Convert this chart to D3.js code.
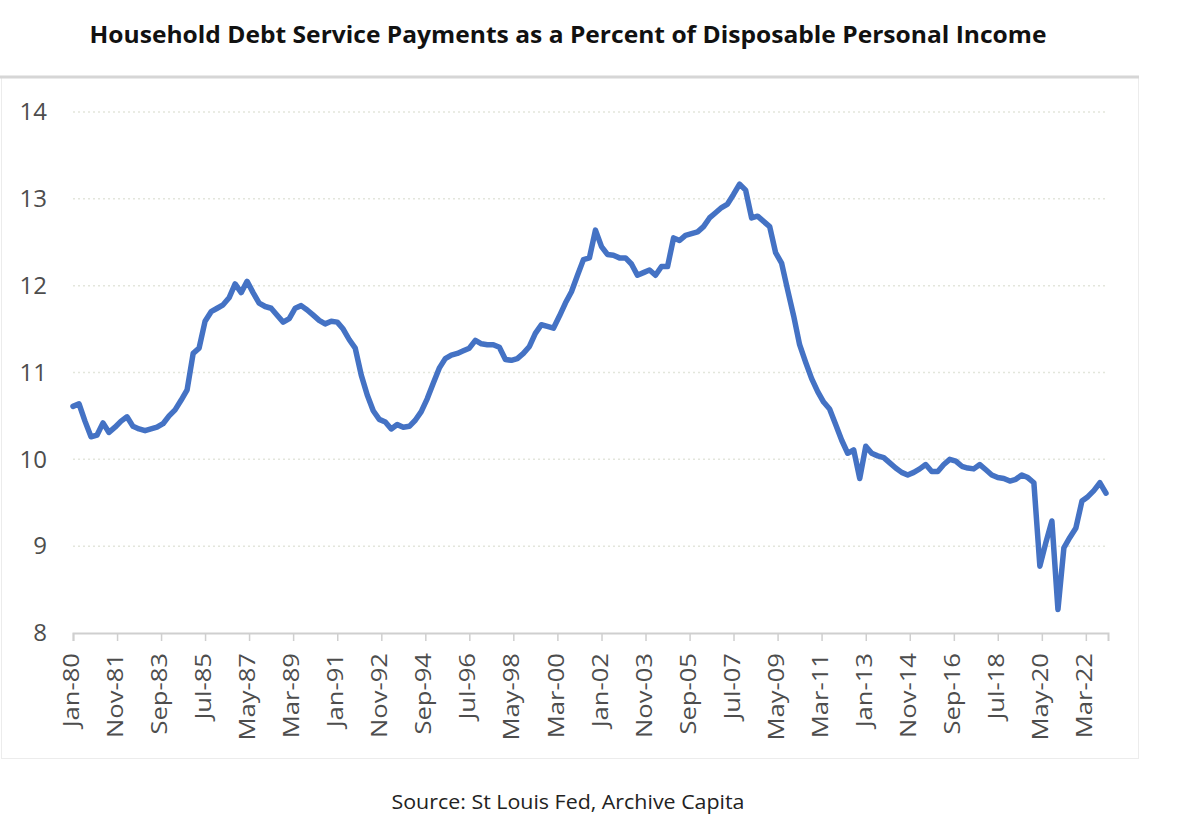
<!DOCTYPE html>
<html>
<head>
<meta charset="utf-8">
<script src="https://cdn.jsdelivr.net/npm/d3@7"></script>
<style>
  html, body { margin: 0; padding: 0; background: #ffffff; }
  svg { display: block; }
</style>
</head>
<body>
<svg id="chart" width="1200" height="828"></svg>
<script>
// ---- Data (quarterly, starting Q1 1980) ----
const title = "Household Debt Service Payments as a Percent of Disposable Personal Income";
const sourceText = "Source: St Louis Fed, Archive Capita";
const startYear = 1980;
const values = [
  10.61, 10.64, 10.44, 10.26, 10.28, 10.42, 10.31, 10.37, 10.44, 10.49,
  10.38, 10.35, 10.33, 10.35, 10.37, 10.41, 10.50, 10.57, 10.68, 10.80,
  11.22, 11.28, 11.59, 11.70, 11.74, 11.78, 11.86, 12.02, 11.92, 12.05,
  11.92, 11.80, 11.76, 11.74, 11.66, 11.58, 11.62, 11.74, 11.77, 11.72,
  11.66, 11.60, 11.56, 11.59, 11.58, 11.50, 11.38, 11.28, 10.97, 10.74,
  10.56, 10.46, 10.43, 10.35, 10.40, 10.37, 10.38, 10.45, 10.55, 10.70,
  10.88, 11.05, 11.16, 11.20, 11.22, 11.25, 11.28, 11.37, 11.33, 11.32,
  11.32, 11.29, 11.15, 11.14, 11.16, 11.22, 11.30, 11.45, 11.55, 11.53,
  11.51, 11.65, 11.80, 11.93, 12.12, 12.30, 12.32, 12.64, 12.45, 12.36,
  12.35, 12.32, 12.32, 12.25, 12.12, 12.15, 12.18, 12.12, 12.22, 12.22,
  12.55, 12.52, 12.58, 12.60, 12.62, 12.68, 12.78, 12.84, 12.90, 12.94,
  13.05, 13.17, 13.10, 12.78, 12.80, 12.74, 12.68, 12.38, 12.26, 11.95,
  11.65, 11.32, 11.12, 10.93, 10.78, 10.66, 10.58, 10.40, 10.22, 10.07,
  10.11, 9.78, 10.15, 10.07, 10.04, 10.02, 9.96, 9.90, 9.85, 9.82,
  9.85, 9.89, 9.94, 9.86, 9.86, 9.94, 10.00, 9.98, 9.92, 9.90,
  9.89, 9.94, 9.88, 9.82, 9.79, 9.78, 9.75, 9.77, 9.82, 9.79,
  9.73, 8.77, 9.04, 9.29, 8.27, 8.98, 9.10, 9.21, 9.52, 9.57,
  9.64, 9.73, 9.61
];
const xTickLabels = ["Jan-80","Nov-81","Sep-83","Jul-85","May-87","Mar-89","Jan-91","Nov-92",
  "Sep-94","Jul-96","May-98","Mar-00","Jan-02","Nov-03","Sep-05","Jul-07","May-09","Mar-11",
  "Jan-13","Nov-14","Sep-16","Jul-18","May-20","Mar-22"];
const yTicks = [8, 9, 10, 11, 12, 13, 14];

// ---- Build ----
const parse = d3.timeParse("%b-%y");
const data = values.map((v, i) => ({ date: new Date(startYear, 3 * i, 1), value: v }));
const tickDates = xTickLabels.map(parse);

const svg = d3.select("#chart");
const pLeft = 73, pRight = 1108, pTop = 112, pBottom = 633;

const x = d3.scaleTime()
  .domain([new Date(1980, 0, 1), new Date(2023, 1, 1)])
  .range([pLeft, pRight]);
const y = d3.scaleLinear().domain([8, 14]).range([pBottom, pTop]);

// Title
svg.append("text")
  .attr("x", 568).attr("y", 43)
  .attr("text-anchor", "middle")
  .attr("font-family", "'Open Sans', sans-serif")
  .attr("font-weight", 700)
  .attr("font-size", 23)
  .attr("fill", "#111")
  .attr("textLength", 957).attr("lengthAdjust", "spacingAndGlyphs")
  .text(title);

// Chart frame
svg.append("rect")
  .attr("x", 1.5).attr("y", 77.5).attr("width", 1137).attr("height", 681)
  .attr("fill", "#fff").attr("stroke", "#ececec").attr("stroke-width", 1);
svg.append("line")
  .attr("x1", 0).attr("x2", 1139).attr("y1", 77).attr("y2", 77)
  .attr("stroke", "#d6d6d6").attr("stroke-width", 3);

// Gridlines
svg.append("g").selectAll("line")
  .data(yTicks.filter(d => d > 8))
  .join("line")
  .attr("x1", pLeft).attr("x2", pRight)
  .attr("y1", d => y(d)).attr("y2", d => y(d))
  .attr("stroke", "#e3e6dc")
  .attr("stroke-width", 1.5)
  .attr("stroke-dasharray", "2,3");

// Y axis labels
const yAxis = d3.axisLeft(y).tickValues(yTicks).tickSize(0).tickPadding(26)
  .tickFormat(d3.format("d"));
const gy = svg.append("g").attr("transform", `translate(${pLeft},0)`).call(yAxis);
gy.select(".domain").remove();
gy.selectAll("text")
  .attr("font-family", "'Open Sans', sans-serif")
  .attr("font-size", 24)
  .attr("fill", "#4d4d4d");

// X axis
const labelStretch = 1.22;
const xAxis = d3.axisBottom(x).tickValues(tickDates).tickSizeOuter(0).tickSize(8)
  .tickFormat((d, i) => xTickLabels[i]);
const gx = svg.append("g").attr("transform", `translate(0,${pBottom})`).call(xAxis);
gx.select(".domain").attr("stroke", "#cfcfcf").attr("stroke-width", 2);
gx.selectAll(".tick line").attr("stroke", "#cfcfcf").attr("stroke-width", 1.5);
gx.selectAll("text")
  .attr("font-family", "'Open Sans', sans-serif")
  .attr("font-size", 21)
  .attr("fill", "#4d4d4d")
  .attr("text-anchor", "end")
  .attr("dominant-baseline", "middle")
  .attr("transform", `rotate(-90) scale(${labelStretch},1)`)
  .attr("x", -20 / labelStretch)
  .attr("y", 0)
  .attr("dy", null);

// Line
const line = d3.line().x(d => x(d.date)).y(d => y(d.value));
svg.append("path")
  .datum(data)
  .attr("fill", "none")
  .attr("stroke", "#4472C4")
  .attr("stroke-width", 5.5)
  .attr("stroke-linejoin", "round")
  .attr("stroke-linecap", "round")
  .attr("d", line);

// Source
svg.append("text")
  .attr("x", 568).attr("y", 809)
  .attr("text-anchor", "middle")
  .attr("font-family", "'Open Sans', sans-serif")
  .attr("font-size", 20)
  .attr("fill", "#222")
  .attr("textLength", 353).attr("lengthAdjust", "spacingAndGlyphs")
  .text(sourceText);
</script>
</body>
</html>
